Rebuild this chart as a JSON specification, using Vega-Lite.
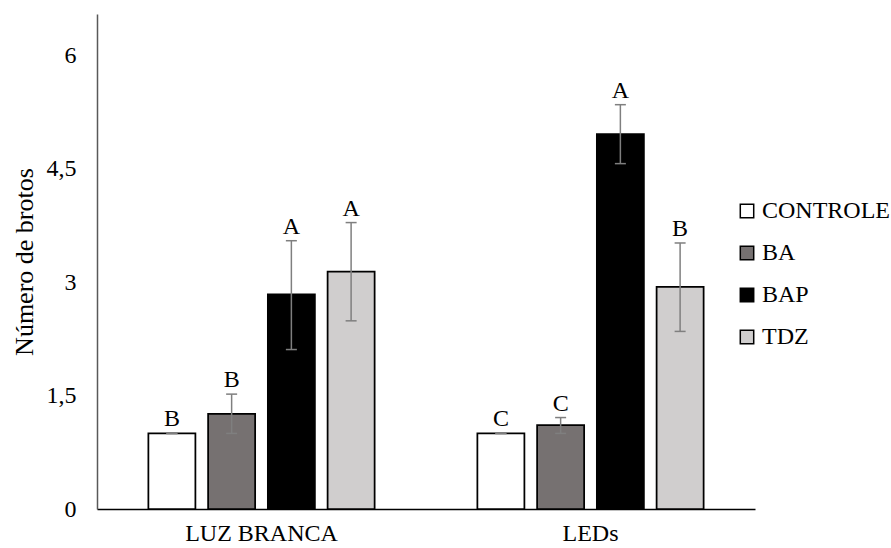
{
  "$schema": "https://vega.github.io/schema/vega-lite/v6.json",
  "width": 658,
  "height": 495,
  "autosize": {"type": "none"},
  "padding": {"left": 97, "top": 14, "right": 136, "bottom": 39},
  "config": {"view": {"stroke": null}, "font": "Liberation Serif"},
  "data": {
    "values": [
      {"luz": "LUZ BRANCA", "trat": "CONTROLE", "media": 1.0, "lo": 1.0, "hi": 1.0, "letra": "B"},
      {"luz": "LUZ BRANCA", "trat": "BA", "media": 1.26, "lo": 1.0, "hi": 1.52, "letra": "B"},
      {"luz": "LUZ BRANCA", "trat": "BAP", "media": 2.84, "lo": 2.11, "hi": 3.55, "letra": "A"},
      {"luz": "LUZ BRANCA", "trat": "TDZ", "media": 3.14, "lo": 2.49, "hi": 3.79, "letra": "A"},
      {"luz": "LEDs", "trat": "CONTROLE", "media": 1.0, "lo": 1.0, "hi": 1.0, "letra": "C"},
      {"luz": "LEDs", "trat": "BA", "media": 1.11, "lo": 1.0, "hi": 1.21, "letra": "C"},
      {"luz": "LEDs", "trat": "BAP", "media": 4.96, "lo": 4.57, "hi": 5.35, "letra": "A"},
      {"luz": "LEDs", "trat": "TDZ", "media": 2.94, "lo": 2.35, "hi": 3.52, "letra": "B"}
    ]
  },
  "encoding": {
    "x": {
      "field": "luz", "type": "nominal", "sort": ["LUZ BRANCA", "LEDs"],
      "scale": {"paddingInner": 0, "paddingOuter": 0},
      "axis": {"title": null, "labelAngle": 0, "ticks": false, "domainColor": "#000000", "domainWidth": 1.5,
               "labelFontSize": 24, "labelPadding": 12, "labelColor": "#000000", "labelFont": "Liberation Serif"}
    },
    "xOffset": {
      "field": "trat", "type": "nominal", "sort": ["CONTROLE", "BA", "BAP", "TDZ"],
      "scale": {"paddingInner": 0.213, "paddingOuter": 0.86}
    }
  },
  "layer": [
    {
      "mark": {"type": "bar", "stroke": "#000000", "strokeWidth": 1.75},
      "encoding": {
        "y": {
          "field": "media", "type": "quantitative",
          "scale": {"domain": [0, 6.55], "nice": false},
          "axis": {
            "values": [0, 1.5, 3, 4.5, 6],
            "labelExpr": "replace(toString(datum.value), '.', ',')",
            "grid": false, "ticks": false, "domainColor": "#595959", "domainWidth": 1.5,
            "labelFontSize": 24, "labelPadding": 21, "labelColor": "#000000", "labelFont": "Liberation Serif",
            "title": "Número de brotos", "titleFontSize": 26, "titleFontWeight": "normal", "titleColor": "#000000",
            "titleFont": "Liberation Serif", "titleX": -73, "titleY": 247.5, "titleBaseline": "middle", "titleAngle": -90, "titleAlign": "center"
          }
        },
        "fill": {
          "field": "trat", "type": "nominal",
          "scale": {"domain": ["CONTROLE", "BA", "BAP", "TDZ"], "range": ["#ffffff", "#767171", "#000000", "#d0cece"]},
          "legend": {
            "title": null, "orient": "none", "legendX": 638, "legendY": 185, "padding": 0,
            "symbolType": "square", "symbolSize": 180, "symbolStrokeColor": "#000000", "symbolStrokeWidth": 1.5,
            "labelFontSize": 24, "labelFont": "Liberation Serif", "labelColor": "#000000", "labelOffset": 3, "rowPadding": 18
          }
        }
      }
    },
    {
      "mark": {"type": "rule", "color": "#7f7f7f", "strokeWidth": 1.5},
      "encoding": {"y": {"field": "lo", "type": "quantitative"}, "y2": {"field": "hi"}}
    },
    {
      "mark": {"type": "tick", "color": "#7f7f7f", "thickness": 1.5, "size": 11, "opacity": 1},
      "encoding": {"y": {"field": "lo", "type": "quantitative"}}
    },
    {
      "mark": {"type": "tick", "color": "#7f7f7f", "thickness": 1.5, "size": 11, "opacity": 1},
      "encoding": {"y": {"field": "hi", "type": "quantitative"}}
    },
    {
      "mark": {"type": "text", "fontSize": 24, "font": "Liberation Serif", "color": "#000000", "baseline": "alphabetic", "dy": -7},
      "encoding": {"y": {"field": "hi", "type": "quantitative"}, "text": {"field": "letra"}}
    }
  ]
}
